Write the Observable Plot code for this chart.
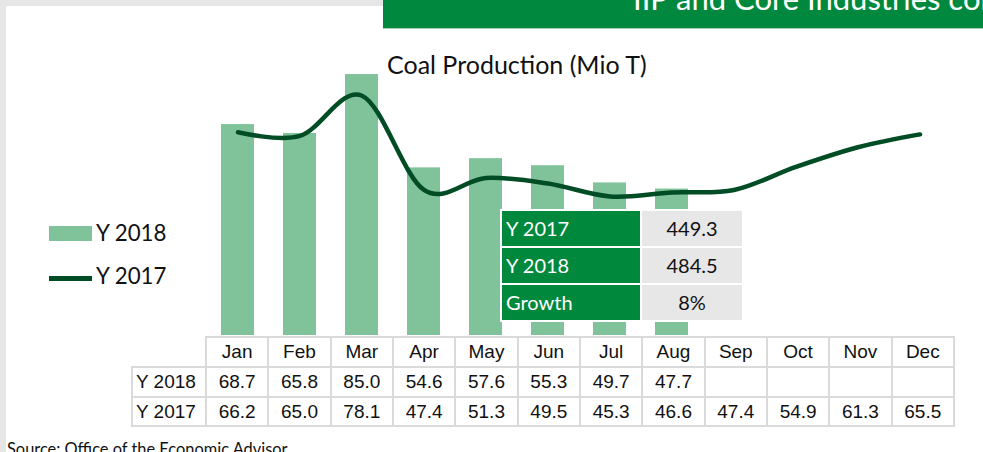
<!DOCTYPE html>
<html><head><meta charset="utf-8">
<script src="https://cdn.jsdelivr.net/npm/d3@7"></script>
<script src="https://cdn.jsdelivr.net/npm/@observablehq/plot@0.6"></script>
<style>
html,body{margin:0;padding:0;background:#fff;}
#wrap{position:relative;width:983px;height:452px;overflow:hidden;background:#e6e6e6;font-family:Lato,sans-serif;}
#panel{position:absolute;left:6px;top:6px;width:977px;height:446px;background:#fff;}
#banner{position:absolute;left:383px;top:0;width:600px;height:28px;background:#00893e;border-bottom:1px solid #9fcfb0;overflow:hidden;}
#banner span{position:absolute;left:250px;top:-17px;font-family:Lato,sans-serif;font-size:31px;line-height:31px;color:#fff;white-space:nowrap;}
#chart{position:absolute;left:0;top:0;}
#title{position:absolute;left:387px;top:50px;font-size:25px;line-height:28px;color:#111;white-space:nowrap;}
.leg{position:absolute;left:49px;}
.legtxt{position:absolute;left:96px;font-size:22.3px;line-height:24px;color:#111;white-space:nowrap;}
#summary{position:absolute;left:500px;top:209px;display:grid;grid-template-columns:138px 100px;grid-auto-rows:35px;gap:2px;padding:2px;background:#fff;font-size:20px;}
#summary div{line-height:35px;white-space:nowrap;}
#summary .k{background:#00883d;color:#fff;padding-left:4px;}
#summary .v{background:#e7e7e7;color:#111;text-align:center;}
#dtable{position:absolute;left:131px;top:336px;display:grid;grid-template-columns:72px repeat(12,60.33px);grid-template-rows:28px 28px 27px;gap:2px;padding:2px;background:#dadada;font-family:"Liberation Sans",Arial,sans-serif;font-size:19px;color:#111;}
#dtable div{background:#fff;text-align:center;line-height:28px;white-space:nowrap;}
#dtable div.lab{text-align:left;padding-left:3px;}
#dcover{position:absolute;left:128px;top:333px;width:77px;height:33px;background:#fff;}
#source{position:absolute;left:7px;top:440px;font-size:16.4px;line-height:18px;color:#111;white-space:nowrap;}
</style></head><body>
<div id="wrap">
  <div id="panel"></div>
  <div id="banner"><span>IIP and Core Industries comparison</span></div>
  <div id="chart"></div>
  <div id="title">Coal Production (Mio T)</div>
  <div class="leg" style="top:226px;width:43px;height:15px;background:#80c39b"></div>
  <div class="legtxt" style="top:221px">Y 2018</div>
  <div class="leg" style="top:276px;width:43px;height:5px;background:#004d25"></div>
  <div class="legtxt" style="top:264px">Y 2017</div>
  <div id="summary"></div>
  <div id="dtable"></div>
  <div id="dcover"></div>
  <div id="source">Source: Office of the Economic Advisor</div>
</div>
<script>
const months = ["Jan","Feb","Mar","Apr","May","Jun","Jul","Aug","Sep","Oct","Nov","Dec"];
const values2018 = [68.7, 65.8, 85.0, 54.6, 57.6, 55.3, 49.7, 47.7];
const values2017 = [66.2, 65.0, 78.1, 47.4, 51.3, 49.5, 45.3, 46.6, 47.4, 54.9, 61.3, 65.5];
const seriesNames = ["Y 2018", "Y 2017"];
const summaryLabels = ["Y 2017", "Y 2018", "Growth"];
const summaryValues = ["449.3", "484.5", "8%"];

const data2018 = values2018.map((v, i) => ({month: months[i], value: v}));
const data2017 = values2017.map((v, i) => ({month: months[i], value: v}));

const chart = Plot.plot({
  width: 983, height: 452,
  marginLeft: 205, marginRight: 30, marginTop: 20, marginBottom: 117,
  style: {background: "transparent", overflow: "visible"},
  x: {domain: months, axis: null, paddingInner: 0.46, paddingOuter: 0.23},
  y: {domain: [0, 102.6], axis: null},
  marks: [
    Plot.barY(data2018, {x: "month", y: "value", fill: "#80c39b"}),
    Plot.line(data2017, {x: "month", y: "value", stroke: "#004d25", strokeWidth: 4.5, curve: "cardinal"})
  ]
});
document.getElementById("chart").appendChild(chart);

// summary table
const st = document.getElementById("summary");
st.innerHTML = summaryLabels.map((l, i) => `<div class="k">${l}</div><div class="v">${summaryValues[i]}</div>`).join("");

// data table
const dt = document.getElementById("dtable");
let h = `<div class="lab"></div>` + months.map(m => `<div>${m}</div>`).join("");
h += `<div class="lab">${seriesNames[0]}</div>` + months.map((m, i) => `<div>${values2018[i] !== undefined ? values2018[i].toFixed(1) : ""}</div>`).join("");
h += `<div class="lab">${seriesNames[1]}</div>` + months.map((m, i) => `<div>${values2017[i].toFixed(1)}</div>`).join("");
dt.innerHTML = h;
</script>
</body></html>
